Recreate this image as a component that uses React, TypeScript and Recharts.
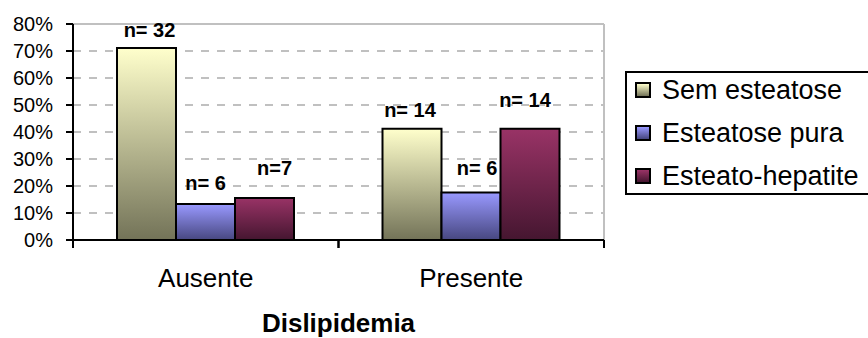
import React from 'react';
import {
  BarChart,
  Bar,
  XAxis,
  YAxis,
  CartesianGrid,
  LabelList,
} from 'recharts';

const categories = ['Ausente', 'Presente'];
const semEsteatose = [71.1, 41.2];
const esteatosePura = [13.3, 17.6];
const esteatoHepatite = [15.6, 41.2];
const semLabels = ['n= 32', 'n= 14'];
const puraLabels = ['n= 6', 'n= 6'];
const hepLabels = ['n=7', 'n= 14'];
const yTicks = [0, 10, 20, 30, 40, 50, 60, 70, 80];

const FONT = '"Liberation Sans", Arial, sans-serif';

const data = categories.map((name, i) => ({
  name,
  sem: semEsteatose[i],
  pura: esteatosePura[i],
  hep: esteatoHepatite[i],
  semLabel: semLabels[i],
  puraLabel: puraLabels[i],
  hepLabel: hepLabels[i],
}));

const series = [
  { key: 'sem', label: 'semLabel', name: 'Sem esteatose', top: '#ffffcc', bottom: '#737358' },
  { key: 'pura', label: 'puraLabel', name: 'Esteatose pura', top: '#9999ff', bottom: '#474780' },
  { key: 'hep', label: 'hepLabel', name: 'Esteato-hepatite', top: '#993366', bottom: '#451630' },
];

// small per-label nudges [dx, distance above bar top]
const nudges: Record<string, [number, number][]> = {
  sem: [[3, 18], [-2, 19]],
  pura: [[0, 21], [6, 24]],
  hep: [[10, 30], [-5, 29]],
};

const makeLabel = (key: string) => (props: any) => {
  const { x, y, width, index, value } = props;
  const [dx, up] = nudges[key][index] ?? [0, 20];
  return (
    <text
      x={Number(x) + Number(width) / 2 + dx}
      y={Number(y) - up + 7}
      textAnchor="middle"
      fontFamily={FONT}
      fontWeight="bold"
      fontSize={20}
      fill="#000"
    >
      {value}
    </text>
  );
};

const TICK_MARGIN = 29;

const CategoryTick = (props: any) => {
  const { x, y, payload, width, visibleTicksCount } = props;
  const half = Number(width) / (2 * (visibleTicksCount || categories.length));
  const axisY = y - TICK_MARGIN;
  return (
    <g>
      <line x1={x - half} x2={x - half} y1={axisY} y2={axisY + 8} stroke="#000" strokeWidth={2} />
      <line x1={x + half} x2={x + half} y1={axisY} y2={axisY + 8} stroke="#000" strokeWidth={2} />
      <text x={x} y={y} dy="0.71em" textAnchor="middle" fontFamily={FONT} fontSize={26} fill="#000">
        {payload.value}
      </text>
    </g>
  );
};

// legend box runs off the right edge, as in the original
const LegendBox = () => (
  <div
    style={{
      position: 'absolute',
      left: 625,
      top: 71,
      border: '2px solid #000',
      width: 300,
      background: '#fff',
      fontFamily: FONT,
      fontSize: 27,
      color: '#000',
      boxSizing: 'border-box',
    }}
  >
    {series.map((s, i) => (
      <div
        key={s.key}
        style={{
          display: 'flex',
          alignItems: 'center',
          height: 34,
          marginBottom: i < series.length - 1 ? 9 : 0,
          paddingLeft: 8,
          whiteSpace: 'nowrap',
        }}
      >
        <span
          style={{
            display: 'inline-block',
            width: 16,
            height: 16,
            boxSizing: 'border-box',
            border: '2px solid #000',
            background: `linear-gradient(${s.top}, ${s.bottom})`,
            marginRight: 11,
          }}
        />
        {s.name}
      </div>
    ))}
  </div>
);

export default function App() {
  return (
    <div style={{ position: 'absolute', left: 0, top: 0, width: 868, height: 338, overflow: 'hidden', background: '#fff' }}>
      <BarChart
        width={868}
        height={338}
        data={data}
        margin={{ top: 24, right: 264, left: 0, bottom: 0 }}
        barGap={0}
      >
        <defs>
          {series.map(s => (
            <linearGradient key={s.key} id={`grad-${s.key}`} x1="0" y1="0" x2="0" y2="1">
              <stop offset="0%" stopColor={s.top} />
              <stop offset="100%" stopColor={s.bottom} />
            </linearGradient>
          ))}
        </defs>
        <CartesianGrid
          vertical={false}
          stroke="#c0c0c0"
          strokeWidth={2}
          strokeDasharray="8 8"
        />
        <CartesianGrid
          stroke="#c0c0c0"
          strokeWidth={2}
          horizontalCoordinatesGenerator={({ offset }: any) => [offset.top]}
          verticalCoordinatesGenerator={({ offset }: any) => [offset.left + offset.width]}
        />
        <XAxis
          dataKey="name"
          height={98}
          axisLine={{ stroke: '#000', strokeWidth: 2 }}
          tickLine={false}
          tickSize={0}
          tickMargin={TICK_MARGIN}
          tick={<CategoryTick />}
          interval={0}
          label={{
            value: 'Dislipidemia',
            position: 'insideBottom',
            offset: 6,
            fontFamily: FONT,
            fontWeight: 'bold',
            fontSize: 26,
            fill: '#000',
          }}
        />
        <YAxis
          width={73}
          domain={[0, 80]}
          ticks={yTicks}
          interval={0}
          tickFormatter={(v: number) => `${v}%`}
          axisLine={{ stroke: '#000', strokeWidth: 2 }}
          tickLine={{ stroke: '#000', strokeWidth: 2 }}
          tickSize={7}
          tickMargin={13}
          tick={{ fontFamily: FONT, fontSize: 20, fill: '#000' }}
        />
        {series.map(s => (
          <Bar
            key={s.key}
            dataKey={s.key}
            name={s.name}
            barSize={59}
            fill={`url(#grad-${s.key})`}
            stroke="#000"
            strokeWidth={2}
            isAnimationActive={false}
          >
            <LabelList dataKey={s.label} content={makeLabel(s.key)} />
          </Bar>
        ))}
      </BarChart>
      <LegendBox />
    </div>
  );
}
